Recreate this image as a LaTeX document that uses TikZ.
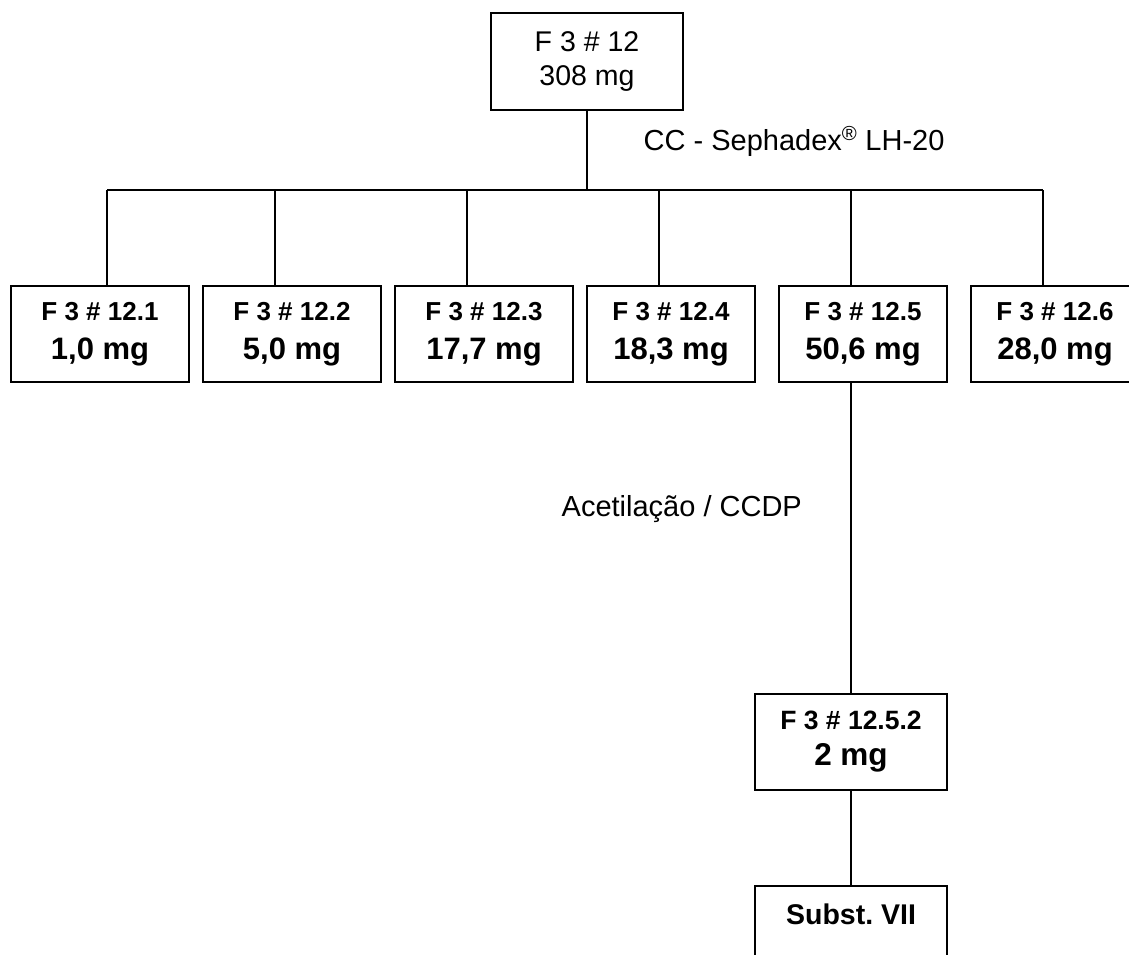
\documentclass[tikz,border=0pt]{standalone}
\usepackage{fontspec}
\setmainfont{Liberation Sans}
\newcommand{\fracbox}[2]{{\fontsize{26}{30}\selectfont #1}\\{#2}}

\begin{document}
\begin{tikzpicture}[x=1pt,y=-1pt,line width=1.4pt,
                    box/.style={draw,align=center,inner sep=0pt,minimum height=96pt},
                    sub/.style={box,font=\bfseries\fontsize{31}{39}\selectfont},
                    lbl/.style={inner sep=0pt,anchor=base west,font=\fontsize{29}{34}\selectfont}]
  \useasboundingbox (0,0) rectangle (1129,954);
  \clip (0,0) rectangle (1129,954);
  \node[box,minimum width=192pt,minimum height=97pt,
        font=\fontsize{28.5}{34}\selectfont] (f12) at (587,61.5) {F 3 \# 12\\308 mg};
  \node[lbl] (cc) at (643,150) {CC - Sephadex\textsuperscript{\textregistered} LH-20};
  \coordinate (b1) at (107,190);
  \coordinate (b2) at (275,190);
  \coordinate (b3) at (467,190);
  \coordinate (b4) at (659,190);
  \coordinate (b5) at (851,190);
  \coordinate (b6) at (1043,190);
  \draw (f12.south) -- (f12.south |- b1);
  \draw (b1) -- (b6);
  \node[sub,minimum width=178pt] (f1) at (100,334) {\fracbox{F 3 \# 12.1}{1,0 mg}};
  \node[sub,minimum width=178pt] (f2) at (292,334) {\fracbox{F 3 \# 12.2}{5,0 mg}};
  \node[sub,minimum width=178pt] (f3) at (484,334) {\fracbox{F 3 \# 12.3}{17,7 mg}};
  \node[sub,minimum width=168pt] (f4) at (671,334) {\fracbox{F 3 \# 12.4}{18,3 mg}};
  \node[sub,minimum width=168pt] (f5) at (863,334) {\fracbox{F 3 \# 12.5}{50,6 mg}};
  \node[sub,minimum width=168pt] (f6) at (1055,334) {\fracbox{F 3 \# 12.6}{28,0 mg}};
  \draw (b1) -- (b1 |- f1.north);
  \draw (b2) -- (b2 |- f2.north);
  \draw (b3) -- (b3 |- f3.north);
  \draw (b4) -- (b4 |- f4.north);
  \draw (b5) -- (b5 |- f5.north);
  \draw (b6) -- (b6 |- f6.north);
  \node[lbl] (acet) at (561,516) {Acetilação / CCDP};
  \node[sub,minimum width=192pt,font=\bfseries\fontsize{31.5}{36}\selectfont]
      (f52) at (851,742) {{\fontsize{26.5}{30}\selectfont F 3 \# 12.5.2}\\2 mg};
  \draw (b5 |- f5.south) -- (f52.north);
  \node[box,minimum width=192pt,font=\bfseries\fontsize{28.5}{34}\selectfont,
        text height=20pt,text depth=40pt] (s7) at (851,934) {Subst.\ VII};
  \draw (f52.south) -- (s7.north);
\end{tikzpicture}
\end{document}
